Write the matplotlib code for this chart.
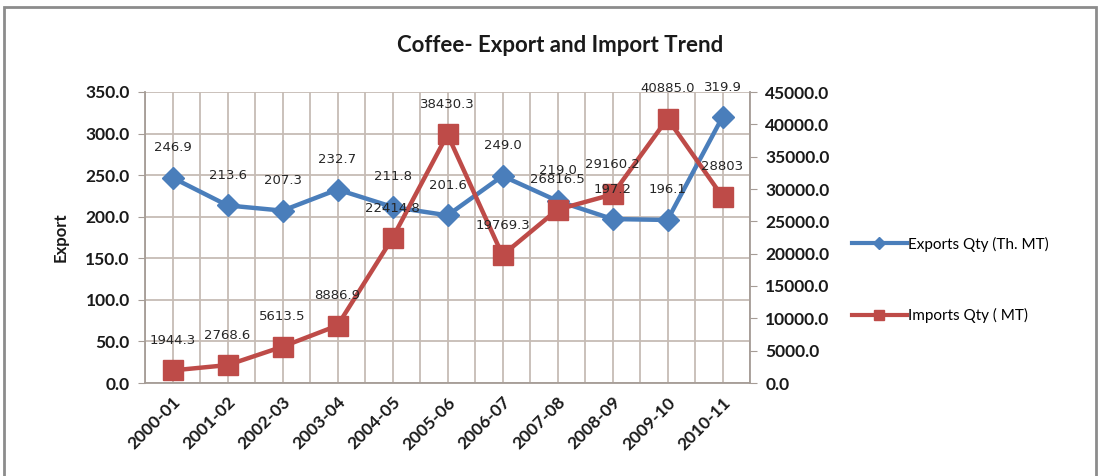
import matplotlib
matplotlib.use("Agg")
import matplotlib.pyplot as plt
from matplotlib.patches import Rectangle
from matplotlib.lines import Line2D
import numpy as np

# Data
years = ["2000-01", "2001-02", "2002-03", "2003-04", "2004-05", "2005-06",
         "2006-07", "2007-08", "2008-09", "2009-10", "2010-11"]
exports_qty = [246.9, 213.6, 207.3, 232.7, 211.8, 201.6, 249.0, 219.0, 197.2, 196.1, 319.9]
imports_qty = [1944.3, 2768.6, 5613.5, 8886.9, 22414.8, 38430.3, 19769.3, 26816.5,
               29160.2, 40885.0, 28803]
export_labels = ["246.9", "213.6", "207.3", "232.7", "211.8", "201.6", "249.0",
                 "219.0", "197.2", "196.1", "319.9"]
import_labels = ["1944.3", "2768.6", "5613.5", "8886.9", "22414.8", "38430.3",
                 "19769.3", "26816.5", "29160.2", "40885.0", "28803"]
left_ticks = [0, 50, 100, 150, 200, 250, 300, 350]
right_ticks = [0, 5000, 10000, 15000, 20000, 25000, 30000, 35000, 40000, 45000]

BLUE = "#4A7EBB"
RED = "#BE4B48"
GRID = "#C6BCB5"
SPINE = "#A59C96"
TXT = "#1A1A1A"
TICKFONT = "Lato"

W, H = 1100, 476
fig = plt.figure(figsize=(W / 100, H / 100), dpi=100)
fig.patch.set_facecolor("white")

# outer chart frame
fig.add_artist(Rectangle((4 / W, -0.05), (W - 8) / W, (H - 7) / H + 0.05,
                         transform=fig.transFigure, fill=False,
                         edgecolor="#8C8C8C", linewidth=2.0))

x0, x1, ytop, ybot = 145, 750, 92, 383
ax = fig.add_axes([x0 / W, (H - ybot) / H, (x1 - x0) / W, (ybot - ytop) / H])
ax2 = ax.twinx()

x = np.arange(len(years))

ax.set_xlim(-0.5, len(years) - 0.5)
ax.set_ylim(0, 350)
ax2.set_ylim(0, 45000)

# grid: horizontal at left ticks, vertical at each half category
for yv in left_ticks:
    ax.axhline(yv, color=GRID, lw=1.3, zorder=0)
for xv in np.arange(-0.5, len(years), 0.5):
    ax.axvline(xv, color=GRID, lw=1.3, zorder=0)

ax.plot(x, exports_qty, color=BLUE, lw=3.2, marker="D", markersize=11,
        markerfacecolor=BLUE, markeredgecolor=BLUE, zorder=3)
ax2.plot(x, imports_qty, color=RED, lw=3.2, marker="s", markersize=14,
         markerfacecolor=RED, markeredgecolor=RED, zorder=3)

# value labels sit above both series, so all are placed on the top axes
label_kw = dict(xytext=(0, 30), textcoords="offset pixels", ha="center",
                va="center", fontsize=9.5, color="#262626",
                family="DejaVu Sans", zorder=6, annotation_clip=False)
for xi, v, s in zip(x, exports_qty, export_labels):
    ax2.annotate(s, (xi, v), xycoords=ax.transData, **label_kw)
for xi, v, s in zip(x, imports_qty, import_labels):
    ax2.annotate(s, (xi, v), **label_kw)

ax.set_yticks(left_ticks)
ax.set_yticklabels([f"{t:.1f}" for t in left_ticks])
ax2.set_yticks(right_ticks)
ax2.set_yticklabels([f"{t:.1f}" for t in right_ticks])
ax.set_xticks(x)
ax.set_xticklabels(years, rotation=45, ha="right", rotation_mode="anchor")

for a in (ax, ax2):
    for sp in a.spines.values():
        sp.set_visible(False)
ax.spines["left"].set_visible(True)
ax.spines["left"].set_color(SPINE)
ax.spines["left"].set_linewidth(1.3)
ax.spines["bottom"].set_visible(True)
ax.spines["bottom"].set_color(SPINE)
ax.spines["bottom"].set_linewidth(1.3)
ax2.spines["right"].set_visible(True)
ax2.spines["right"].set_color(SPINE)
ax2.spines["right"].set_linewidth(1.3)

ax.tick_params(axis="y", length=5, color=SPINE, pad=6, labelsize=12.5, labelcolor=TXT)
ax.tick_params(axis="x", length=0, pad=8, labelsize=12.5, labelcolor=TXT)
ax2.tick_params(axis="y", length=5, color=SPINE, pad=6, labelsize=12.5, labelcolor=TXT)
for lab in ax.get_yticklabels() + ax.get_xticklabels() + ax2.get_yticklabels():
    lab.set_fontfamily(TICKFONT)
    lab.set_fontweight("bold")

ax.set_ylabel("Export", fontsize=12, fontweight="bold", family=TICKFONT,
              color=TXT, labelpad=12)

fig.text(560 / W, 1 - 45 / H, "Coffee- Export and Import Trend", ha="center",
         va="center", fontsize=16, fontweight="bold", family=TICKFONT, color=TXT)

# legend
handles = [Line2D([], [], color=BLUE, lw=3, marker="D", markersize=6),
           Line2D([], [], color=RED, lw=3, marker="s", markersize=7)]
fig.legend(handles, ["Exports Qty (Th. MT)", "Imports Qty ( MT)"],
           loc="center left", bbox_to_anchor=(838 / W, 1 - 280 / H),
           frameon=False, handlelength=3.6, handletextpad=0.1,
           labelspacing=3.7, prop={"family": "Lato", "size": 11})

fig.savefig("out.png", dpi=100, facecolor="white")
